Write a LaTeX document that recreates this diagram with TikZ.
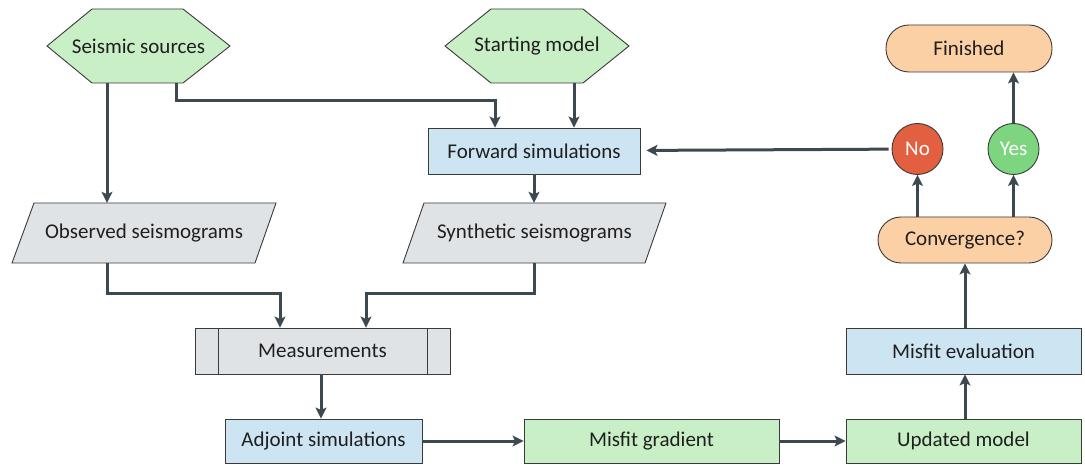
\documentclass[tikz,border=0pt]{standalone}
\usepackage{fontspec}
\setmainfont{Carlito}
\usetikzlibrary{arrows.meta}
\definecolor{edgec}{HTML}{3A3A3A}
\definecolor{arrowc}{HTML}{3D4950}
\definecolor{txtc}{HTML}{1F1F1F}
\definecolor{greenf}{HTML}{C9EFC6}
\definecolor{bluef}{HTML}{CDE5F2}
\definecolor{grayf}{HTML}{E0E3E6}
\definecolor{orangef}{HTML}{FBD0A4}
\definecolor{nofill}{HTML}{E2603F}
\definecolor{yesfill}{HTML}{7DD67F}
\begin{document}
\begin{tikzpicture}[x=1pt,y=-1pt,
  lbl/.style={inner sep=0pt, text=txtc, font=\fontsize{21}{21}\selectfont},
  box/.style={lbl, draw=edgec, line width=0.9pt, minimum height=46pt},
  shapeline/.style={draw=edgec, line width=0.9pt},
  pill/.style={box, rounded corners=23pt, fill=orangef},
  circ/.style={circle, draw=edgec, line width=0.9pt, minimum size=51pt, inner sep=0pt,
    text=white, font=\fontsize{21}{21}\selectfont},
  flow/.style={draw=arrowc, line width=3pt, -{Stealth[length=11pt,width=11pt,inset=2.5pt]}},
]
\useasboundingbox (0,0) rectangle (1085,465);

% hexagonal inputs
\path[shapeline, fill=greenf] (47,46) -- (92,9) -- (183,9) -- (230,46) -- (183,83) -- (92,83) -- cycle;
\node[lbl, minimum width=183pt, minimum height=74pt] (ss) at (138.5,46) {Seismic sources};
\path[shapeline, fill=greenf] (445,46) -- (491,9) -- (583,9) -- (629,46) -- (583,83) -- (491,83) -- cycle;
\node[lbl, minimum width=184pt, minimum height=74pt] (sm) at (537,46) {Starting model};

% forward modelling
\node[box, fill=bluef, minimum width=212pt] (fwd) at (534,151) {Forward simulations};

% data (parallelograms)
\path[shapeline, fill=grayf] (34,203) -- (276,203) -- (255,263) -- (12,263) -- cycle;
\node[lbl, minimum width=243pt, minimum height=60pt] (obs) at (144,233) {Observed seismograms};
\path[shapeline, fill=grayf] (424,203) -- (666,203) -- (645,263) -- (403,263) -- cycle;
\node[lbl, minimum width=243pt, minimum height=60pt] (syn) at (534.5,233) {Synthetic seismograms};

% measurement process box
\node[box, fill=grayf, minimum width=255pt] (meas) at (322.5,351) {Measurements};
\draw[edgec, line width=0.9pt] (218,328) -- (218,374) (427,328) -- (427,374);

% bottom row
\node[box, fill=bluef, minimum width=197pt, minimum height=44pt] (adj) at (323.5,441) {Adjoint simulations};
\node[box, fill=greenf, minimum width=255pt, minimum height=44pt] (grad) at (651.5,441) {Misfit gradient};
\node[box, fill=greenf, minimum width=235pt, minimum height=44pt] (upd) at (963.5,441) {Updated model};
\node[box, fill=bluef, minimum width=235pt] (eval) at (963.5,351) {Misfit evaluation};

% decision
\node[pill, minimum width=174pt] (conv) at (965,240) {Convergence?};
\node[pill, minimum width=166pt, minimum height=47pt] (fin) at (969,48.5) {Finished};
\node[circ, fill=nofill] (no) at (917.5,149) {No};
\node[circ, fill=yesfill] (yes) at (1013.5,149) {Yes};

% connectors
\draw[flow] (ss.south -| 107,0) -- (obs.north -| 107,0);
\draw[flow] (ss.south -| 176,0) |- (495,101) -- (fwd.north -| 495,0);
\draw[flow] (sm.south -| 574,0) -- (fwd.north -| 574,0);
\draw[flow] (fwd.south -| 534,0) -- (syn.north -| 534,0);
\draw[flow] (obs.south -| 107,0) |- (280,294) -- (meas.north -| 280,0);
\draw[flow] (syn.south -| 534,0) |- (366,294) -- (meas.north -| 366,0);
\draw[flow] (meas.south -| 321,0) -- (adj.north -| 321,0);
\draw[flow] (adj) -- (grad);
\draw[flow] (grad) -- (upd);
\draw[flow] (upd.north -| 965,0) -- (eval.south -| 965,0);
\draw[flow] (eval.north -| 965,0) -- (conv.south -| 965,0);
\draw[flow] (conv.north -| no) -- (no);
\draw[flow] (conv.north -| yes) -- (yes);
\draw[flow] (yes) -- (fin.south -| yes);
\draw[flow, shorten <=3pt, shorten >=6pt] (no) -- (fwd);
\end{tikzpicture}
\end{document}
